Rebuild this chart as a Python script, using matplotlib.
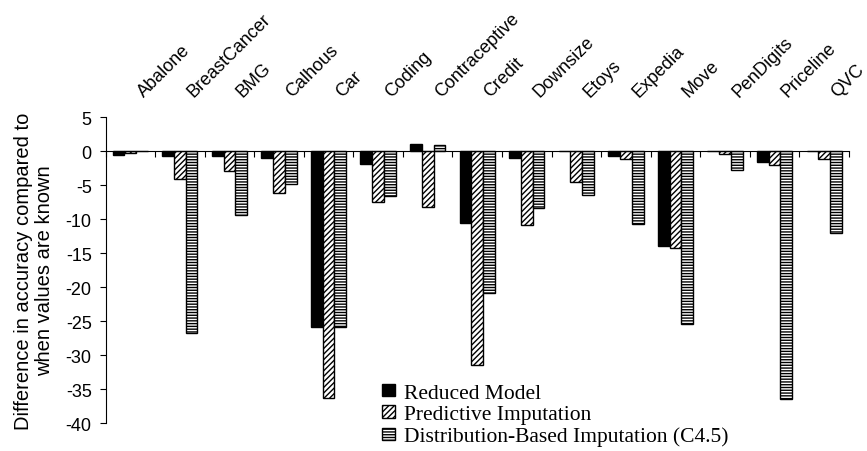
import numpy as np
import matplotlib
matplotlib.use("Agg")
import matplotlib.pyplot as plt

plt.rcParams['font.family'] = ['Liberation Sans', 'DejaVu Sans']
plt.rcParams['axes.unicode_minus'] = False
plt.rcParams['hatch.linewidth'] = 1.0

# data
datasets = ['Abalone', 'BreastCancer', 'BMG', 'Calhous', 'Car', 'Coding', 'Contraceptive',
            'Credit', 'Downsize', 'Etoys', 'Expedia', 'Move', 'PenDigits', 'Priceline', 'QVC']
reduced_model = [-0.5, -0.75, -0.7, -1.0, -25.8, -1.9, 1.0, -10.5, -1.0, 0.0, -0.7, -13.9, 0.0, -1.6, 0.0]
predictive_imp = [-0.3, -4.1, -2.9, -6.2, -36.3, -7.5, -8.2, -31.5, -10.9, -4.6, -1.2, -14.2, -0.4, -2.1, -1.2]
distribution_imp = [0.0, -26.7, -9.4, -4.85, -25.8, -6.6, 0.9, -20.9, -8.4, -6.4, -10.7, -25.4, -2.7, -36.5, -12.1]
series_labels = ['Reduced Model', 'Predictive Imputation', 'Distribution-Based Imputation (C4.5)']
yticks = [5, 0, -5, -10, -15, -20, -25, -30, -35, -40]

fig = plt.figure(figsize=(8.67, 4.52), dpi=100)
ax = fig.add_axes([0.1217, 0.0619, 0.8575, 0.6766])

x = np.arange(len(datasets))
w = 0.237
ax.bar(x - w, reduced_model, w, color='black', edgecolor='black', linewidth=1, label=series_labels[0])
ax.bar(x, predictive_imp, w, color='white', edgecolor='black', linewidth=1, hatch='//////', label=series_labels[1])
ax.bar(x + w, distribution_imp, w, color='white', edgecolor='black', linewidth=1, hatch='------', label=series_labels[2])

ax.set_xlim(-0.5, len(datasets) - 0.5)
ax.set_ylim(-40, 5)
ax.set_yticks(yticks)
ax.set_yticklabels([str(v) for v in yticks])

# category axis sits at zero, ticks between groups, labels on top
ax.spines['bottom'].set_position(('data', 0))
ax.spines['top'].set_visible(False)
ax.spines['right'].set_visible(False)
for s in ['left', 'bottom']:
    ax.spines[s].set_linewidth(0.8)
ax.set_xticks(np.arange(-0.5, len(datasets), 1.0))
ax.set_xticklabels([])
ax.tick_params(axis='x', direction='out', length=4.5, width=0.8)
ax.tick_params(axis='y', direction='out', length=4, width=0.8, labelsize=13, pad=6)

for i, name in enumerate(datasets):
    ax.annotate(name, xy=(i, 1), xycoords=('data', 'axes fraction'),
                xytext=(9.5, 14.5), textcoords='offset points',
                rotation=45, rotation_mode='anchor', ha='left', va='baseline', fontsize=13)

ax.set_ylabel('Difference in accuracy compared to\nwhen values are known', fontsize=14.5, labelpad=8)

fig.legend(loc='center left', bbox_to_anchor=(0.4403, 0.0796), frameon=False,
           prop={'family': 'Liberation Serif', 'size': 15.5}, borderpad=0, borderaxespad=0,
           handlelength=0.6, handleheight=0.5, handletextpad=0.45, labelspacing=0.12)

fig.savefig('out.png', dpi=100)
